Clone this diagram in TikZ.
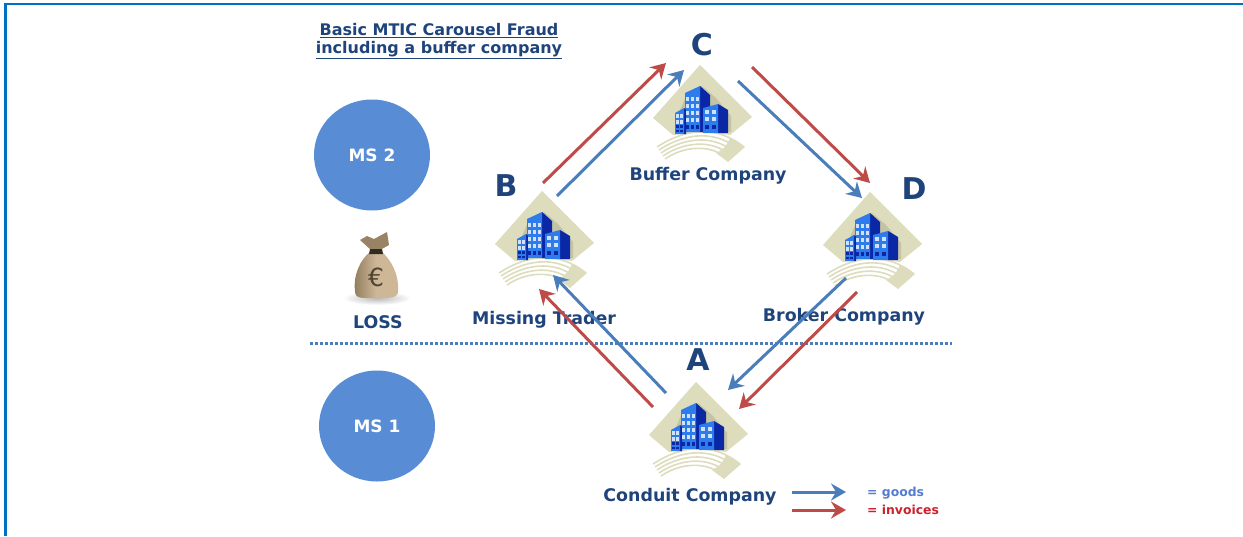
\documentclass[tikz,border=0pt]{standalone}
\usepackage{fontspec}
\setmainfont{DejaVu Sans}
\usetikzlibrary{arrows.meta,calc,shapes.geometric}
\definecolor{frame}{HTML}{0070C0}
\definecolor{navy}{HTML}{1F447C}
\definecolor{goodsblue}{HTML}{4A7EBB}
\definecolor{invoicered}{HTML}{BE4B48}
\definecolor{statefill}{HTML}{588DD6}
\definecolor{keyblue}{HTML}{547CD0}
\definecolor{keyred}{HTML}{D0202C}
\definecolor{sand}{HTML}{DDDCBC}
\definecolor{sandshadow}{HTML}{C4C3A4}
\definecolor{towerfront}{HTML}{2E7CEC}
\definecolor{towerside}{HTML}{0A27A6}
\definecolor{towerlight}{HTML}{CFE2FA}
\definecolor{sack}{HTML}{CDB797}
\definecolor{sackdark}{HTML}{8F7A5C}
\tikzset{
  caption/.style={font=\bfseries\fontsize{17.4}{20}\selectfont, text=navy, inner sep=0pt},
  letter/.style={font=\bfseries\fontsize{30}{32}\selectfont, text=navy, inner sep=0pt},
  member/.style={ellipse, fill=statefill, minimum width=116pt, minimum height=111pt, inner sep=0pt, text=white,
    font=\bfseries\fontsize{17}{20}\selectfont},
  keytext/.style={anchor=west, inner sep=0pt, font=\bfseries\fontsize{12.4}{14}\selectfont},
  goods/.style={draw=goodsblue, line width=3pt, -{Stealth[length=15pt,width=17pt,inset=5pt]}},
  invoices/.style={draw=invoicered, line width=3pt, -{Stealth[length=15pt,width=17pt,inset=5pt]}},
  company/.pic={
    \fill[sand] (0,-53) -- (52,-1) -- (30,17) .. controls (10,14) and (-10,14) .. (-27,17) -- (-47,0) -- cycle;
    \fill[sandshadow] (-22,-3) -- (-14,-22) -- (2,-32) -- (16,-20) -- (31,-2) -- (31,14) -- (-24,14) -- cycle;
    \foreach \i in {0,...,4}
      \draw[sand, line width=1.6pt] (-43+\i*2,29+\i*3) .. controls (-12,9+\i*4) and (18,8+\i*5) .. (44-\i*4,29+\i*3.5);
    \fill[sand] (45,29) -- (28,44) -- (16,35) .. controls (25,31) and (28,25) .. (30,20) -- cycle;
    % towers
    \fill[towerside] (0,-32) -- (10,-23) -- (10,14) -- (0,14) -- cycle;
    \fill[towerfront] (-15,-25) -- (0,-32) -- (0,14) -- (-15,14) -- cycle;
    \fill[towerside] (18,-14) -- (28,-8) -- (28,15) -- (18,15) -- cycle;
    \fill[towerfront] (3,-10) -- (18,-14) -- (18,15) -- (3,15) -- cycle;
    \fill[towerside] (-16,-10) -- (-14,-8) -- (-14,16) -- (-16,16) -- cycle;
    \fill[towerfront] (-25,-5) -- (-16,-10) -- (-16,16) -- (-25,16) -- cycle;
    \foreach \x in {-12.4,-7.4,-2.6}
      \foreach \y in {-19,-12,-5,2}
        \fill[towerlight] (\x-1.7,\y-2) rectangle (\x+1.7,\y+2);
    \foreach \x in {-12.4,-7.4,-2.6}
      \fill[towerside] (\x-1.7,7) rectangle (\x+1.7,11);
    \foreach \x in {-22.4,-18.4}
      \foreach \y in {-2,4}
        \fill[towerlight] (\x-1.4,\y-1.8) rectangle (\x+1.4,\y+1.8);
    \foreach \x in {-22.4,-18.4}
      \foreach \y in {8.5,13}
        \fill[towerside] (\x-1.4,\y-1.4) rectangle (\x+1.4,\y+1.4);
    \foreach \x in {7,13.5}
      \foreach \y in {-6,1}
        \fill[towerlight] (\x-2,\y-2.2) rectangle (\x+2,\y+2.2);
    \foreach \x in {7,13.5}
      \fill[towerside] (\x-2,7) rectangle (\x+2,11);
  }
}
\begin{document}
\begin{tikzpicture}[x=1pt,y=-1pt]
\useasboundingbox (0,0) rectangle (1243,536);
\coordinate (A) at (696,435);
\coordinate (B) at (542,244);
\coordinate (C) at (700,118);
\coordinate (D) at (870,245);
% frame
\coordinate (framebl) at (5.5,536);
\coordinate (frametl) at (5.5,4);
\coordinate (frametr) at (1243,4);
\draw[frame, line width=2.2pt] (framebl) -- (frametl) -- (frametr);
% title
\node[caption, align=center, font=\bfseries\fontsize{16}{18}\selectfont] (title) at (439,41)
  {\underline{Basic MTIC Carousel Fraud}\\\underline{including a buffer company}};
% member states
\node[member] (ms2) at (372,155) {MS 2};
\node[member] (ms1) at (377,426) {MS 1};
% money bag
\coordinate (bag) at (377,298);
\shade[inner color=gray!55, outer color=white, draw=none] (bag) ellipse (34 and 7);
\shade[left color=sackdark, right color=sack, middle color=sack]
  (370,252) .. controls (361,259) and (353,274) .. (355,291) .. controls (355,299) and (362,298) .. (375,298)
  .. controls (388,298) and (399,299) .. (398,290) .. controls (399,274) and (391,260) .. (382,252) -- cycle;
\fill[sackdark!85!sack] (360,240) -- (367,236) -- (374,239) -- (387,232) -- (389,245) -- (380,250) -- (371,250) -- cycle;
\fill[black!65!sackdark] (370,249) -- (382,249) -- (383,254) -- (369,254) -- cycle;
\node[inner sep=0pt, text=black!45!sackdark, font=\fontsize{25}{25}\selectfont] (euro) at (376,277) {€};
\node[caption] (loss) at (378,322) {LOSS};
% companies
\pic at (A) {company};
\pic at (B) {company};
\pic at (C) {company};
\pic at (D) {company};
\node[letter] (letterA) at (698,360) {A};
\node[letter] (letterB) at (506,186) {B};
\node[letter] (letterC) at (702,45) {C};
\node[letter] (letterD) at (914,189) {D};
\node[caption] (buffer) at (708,176) {Buffer Company};
\node[caption] (missing) at (544,320) {Missing Trader};
\node[caption] (broker) at (844,317) {Broker Company};
\node[caption] (conduit) at (690,497) {Conduit Company};
% border between the states
\coordinate (borderl) at (310,343);
\coordinate (borderr) at (952,343);
\draw[goodsblue, line width=3pt, dash pattern=on 3pt off 2pt] (borderl) -- (borderr);
% flows
\draw[invoices] ($(B)+(1,-61)$) -- ($(C)+(-34,-55)$);
\draw[goods] ($(B)+(15,-48)$) -- ($(C)+(-16,-48)$);
\draw[invoices] ($(C)+(52,-51)$) -- ($(D)+(0,-62)$);
\draw[goods] ($(C)+(38,-37)$) -- ($(D)+(-8,-47)$);
\draw[goods] ($(D)+(-24,33)$) -- ($(A)+(32,-45)$);
\draw[invoices] ($(D)+(-13,47)$) -- ($(A)+(43,-26)$);
\draw[goods] ($(A)+(-30,-42)$) -- ($(B)+(11,31)$);
\draw[invoices] ($(A)+(-43,-28)$) -- ($(B)+(-3,45)$);
% legend
\node[keytext, text=keyblue] (keygoods) at (867,493) {= goods};
\node[keytext, text=keyred] (keyinvoices) at (867,510) {= invoices};
\draw[goods] ($(keygoods.west)+(-75,-1)$) -- ($(keygoods.west)+(-21,-1)$);
\draw[invoices] ($(keyinvoices.west)+(-75,0)$) -- ($(keyinvoices.west)+(-21,0)$);
\end{tikzpicture}
\end{document}
